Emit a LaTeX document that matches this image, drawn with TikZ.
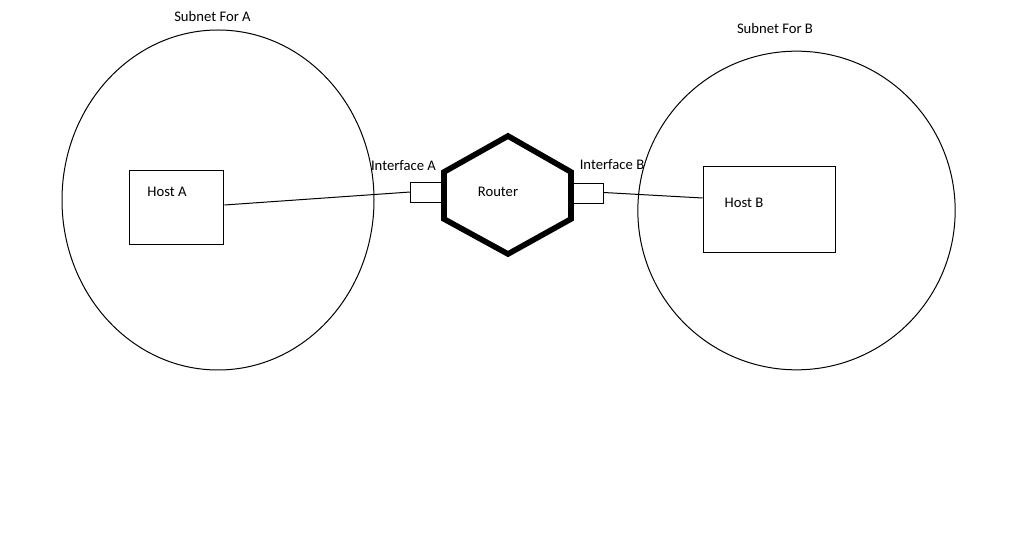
\documentclass[tikz,border=0pt]{standalone}
\usepackage{fontspec}
\setmainfont{Carlito}
\usepackage{tikz}
\usetikzlibrary{shapes.geometric, positioning, calc}

\begin{document}
\begin{tikzpicture}[
  x=0.75pt, y=-0.75pt,
  txt/.style={inner sep=0pt, font=\fontsize{11}{13}\selectfont},
  subnet/.style={draw, ellipse, inner sep=0pt, line width=0.75pt},
  host/.style={draw, rectangle, inner sep=0pt, line width=0.75pt},
  iface/.style={draw, rectangle, inner sep=0pt, line width=0.75pt,
                minimum height=15pt},
  wire/.style={line width=0.75pt},
]
\useasboundingbox (0,0) rectangle (1010,534);

% subnets
\node[subnet, minimum width=234pt, minimum height=255pt] (subnetA) at (218,200) {};
\node[subnet, minimum width=238pt, minimum height=239pt] (subnetB) at (796.5,210.5) {};
\node[txt] (subnetAlbl) at (212.5,16) {Subnet For A};
\node[txt] (subnetBlbl) at (775,28) {Subnet For B};

% hosts
\node[host, minimum width=71pt, minimum height=55.5pt] (hostA) at (176.5,208) {};
\node[host, minimum width=99pt, minimum height=64.5pt] (hostB) at (769,210) {};
\node[txt] (hostAlbl) at (167,192) {Host A};
\node[txt] (hostBlbl) at (744,203) {Host B};

% router
\draw[line width=4.2pt, line join=miter]
  (508,136) -- (571,172) -- (571,219) -- (508,254) -- (444,219) -- (444,172) -- cycle;
\node[txt] (router) at (498,192) {Router};

% interfaces
\node[iface, minimum width=24.5pt, anchor=east] (ifA) at (444,193) {};
\node[iface, minimum width=23pt, anchor=west] (ifB) at (572,193.5) {};
\node[txt] (ifAlbl) at (403.5,166) {Interface A};
\node[txt] (ifBlbl) at (612,165) {Interface B};

\draw[wire] ([yshift=2.25pt]hostA.east) -- ([yshift=0.75pt]ifA.west);
\draw[wire] ([yshift=0.75pt]ifB.east) -- ([yshift=9pt]hostB.west);
\end{tikzpicture}
\end{document}
